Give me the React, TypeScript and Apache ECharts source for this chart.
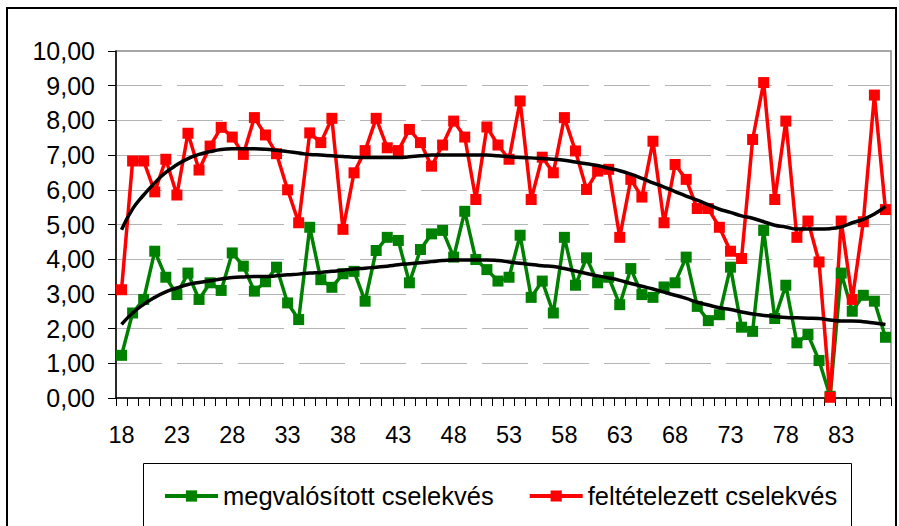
import React, { useEffect, useRef } from "react";
import * as echarts from "echarts";

const ages = [
  "18","19","20","21","22","23","24","25","26","27","28","29","30","31","32","33","34","35","36","37",
  "38","39","40","41","42","43","44","45","46","47","48","49","50","51","52","53","54","55","56","57",
  "58","59","60","61","62","63","64","65","66","67","68","69","70","71","72","73","74","75","76","77",
  "78","79","80","81","82","83","84","85","86","87",
];

const megvalositott = [
  1.23, 2.45, 2.84, 4.23, 3.48, 2.98, 3.6, 2.84, 3.32, 3.1,
  4.18, 3.8, 3.08, 3.35, 3.77, 2.74, 2.26, 4.92, 3.41, 3.19,
  3.58, 3.65, 2.79, 4.25, 4.63, 4.54, 3.32, 4.28, 4.73, 4.83,
  4.06, 5.38, 3.99, 3.7, 3.37, 3.48, 4.69, 2.9, 3.37, 2.45,
  4.63, 3.25, 4.04, 3.32, 3.48, 2.69, 3.73, 2.98, 2.9, 3.2,
  3.32, 4.06, 2.64, 2.23, 2.4, 3.77, 2.04, 1.92, 4.83, 2.29,
  3.25, 1.59, 1.83, 1.08, 0.05, 3.6, 2.5, 2.96, 2.79, 1.75,
];

const feltetelezett = [
  3.12, 6.83, 6.83, 5.94, 6.88, 5.85, 7.63, 6.57, 7.26, 7.8,
  7.52, 7.02, 8.08, 7.58, 7.04, 6.0, 5.05, 7.64, 7.36, 8.06,
  4.86, 6.49, 7.13, 8.06, 7.21, 7.13, 7.74, 7.36, 6.68, 7.29,
  7.98, 7.52, 5.72, 7.81, 7.29, 6.88, 8.56, 5.72, 6.94, 6.49,
  8.08, 7.12, 6.01, 6.54, 6.59, 4.63, 6.3, 5.79, 7.4, 5.05,
  6.73, 6.3, 5.46, 5.46, 4.92, 4.23, 4.02, 7.45, 9.09, 5.72,
  7.98, 4.63, 5.1, 3.92, 0.02, 5.1, 2.84, 5.08, 8.73, 5.43,
];

const megvalositottTrend = [
  2.12, 2.45, 2.7, 2.9, 3.06, 3.17, 3.27, 3.33, 3.38, 3.43,
  3.47, 3.49, 3.5, 3.5, 3.52, 3.55, 3.57, 3.6, 3.62, 3.65,
  3.68, 3.72, 3.74, 3.77, 3.8, 3.84, 3.87, 3.9, 3.93, 3.96,
  3.98, 3.98, 3.98, 3.98, 3.96, 3.92, 3.88, 3.85, 3.81, 3.79,
  3.73, 3.66, 3.59, 3.52, 3.46, 3.39, 3.3, 3.22, 3.14, 3.05,
  2.96, 2.87, 2.76, 2.68, 2.6, 2.55, 2.48, 2.42, 2.38, 2.35,
  2.32, 2.31, 2.3, 2.29, 2.25, 2.22, 2.22, 2.2, 2.16, 2.12,
];

const feltetelezettTrend = [
  4.85, 5.45, 5.85, 6.2, 6.5, 6.72, 6.9, 7.02, 7.1, 7.16,
  7.18, 7.18, 7.18, 7.17, 7.14, 7.1, 7.06, 7.02, 7.0, 6.98,
  6.96, 6.94, 6.93, 6.93, 6.93, 6.93, 6.95, 6.98, 7.0, 7.0,
  7.0, 7.0, 7.0, 7.0, 6.98, 6.95, 6.93, 6.92, 6.9, 6.88,
  6.85, 6.8, 6.75, 6.7, 6.62, 6.55, 6.45, 6.33, 6.2, 6.08,
  5.95, 5.82, 5.7, 5.57, 5.44, 5.35, 5.25, 5.18, 5.08, 4.98,
  4.93, 4.87, 4.87, 4.87, 4.88, 4.93, 5.05, 5.15, 5.3, 5.52,
];

const seriesNames = ["megvalósított cselekvés", "feltételezett cselekvés"];
const FONT = "'Liberation Sans', Arial, sans-serif";

export default function App() {
  const ref = useRef<HTMLDivElement>(null);
  useEffect(() => {
    if (!ref.current) return;
    const chart = echarts.init(ref.current, undefined, { renderer: "svg" });
    chart.setOption({
      animation: false,
      backgroundColor: "#ffffff",
      grid: {
        left: 116,
        top: 51,
        right: 8,
        bottom: 128,
        show: true,
        borderColor: "#888888",
        borderWidth: 1.5,
        containLabel: false,
      },
      legend: {
        data: seriesNames,
        left: 158,
        top: 478,
        itemWidth: 53,
        itemHeight: 14,
        itemGap: 34,
        lineStyle: { width: 4 },
        textStyle: { fontFamily: FONT, fontSize: 25.5, color: "#000" },
      },
      graphic: [
        {
          type: "rect",
          shape: { x: 7, y: 8, width: 889, height: 580 },
          style: { fill: "none", stroke: "#000", lineWidth: 2 },
          silent: true,
        },
        {
          type: "rect",
          shape: { x: 143.5, y: 463.5, width: 708, height: 120 },
          style: { fill: "none", stroke: "#000", lineWidth: 1 },
          silent: true,
        },
      ],
      xAxis: {
        type: "category",
        data: ages,
        boundaryGap: true,
        axisLine: { lineStyle: { color: "#000", width: 1.5 } },
        axisTick: { show: true, interval: 0, length: 8, lineStyle: { color: "#000" } },
        axisLabel: {
          interval: 4,
          margin: 25,
          fontFamily: FONT,
          fontSize: 23.5,
          color: "#000",
        },
        splitLine: { show: false },
      },
      yAxis: {
        type: "value",
        min: 0,
        max: 10,
        interval: 1,
        axisLine: { show: true, lineStyle: { color: "#000", width: 1.5 } },
        axisTick: { show: true, length: 8, lineStyle: { color: "#000" } },
        axisLabel: {
          margin: 21,
          fontFamily: FONT,
          fontSize: 25,
          color: "#000",
          formatter: (v: number) => v.toFixed(2).replace(".", ","),
        },
        splitLine: {
          show: true,
          showMaxLine: false,
          showMinLine: false,
          lineStyle: { color: "#b4b4b4", width: 1.2, type: [46, 15] },
        },
      },
      series: [
        {
          name: seriesNames[0],
          type: "line",
          data: megvalositott,
          color: "#008000",
          symbol: "rect",
          symbolSize: 11,
          showSymbol: true,
          showAllSymbol: true,
          lineStyle: { width: 3.5, color: "#008000" },
          itemStyle: { color: "#008000" },
        },
        {
          name: seriesNames[1],
          type: "line",
          data: feltetelezett,
          color: "#ff0000",
          symbol: "rect",
          symbolSize: 11,
          showSymbol: true,
          showAllSymbol: true,
          lineStyle: { width: 3.5, color: "#ff0000" },
          itemStyle: { color: "#ff0000" },
        },
        {
          name: "trend1",
          type: "line",
          data: megvalositottTrend,
          symbol: "none",
          smooth: true,
          lineStyle: { width: 3.5, color: "#000" },
          z: 5,
        },
        {
          name: "trend2",
          type: "line",
          data: feltetelezettTrend,
          symbol: "none",
          smooth: true,
          lineStyle: { width: 3.5, color: "#000" },
          z: 5,
        },
      ],
    });
    return () => chart.dispose();
  }, []);
  return (
    <div
      ref={ref}
      style={{ position: "fixed", left: 0, top: 0, width: 899, height: 526, background: "#fff" }}
    />
  );
}
